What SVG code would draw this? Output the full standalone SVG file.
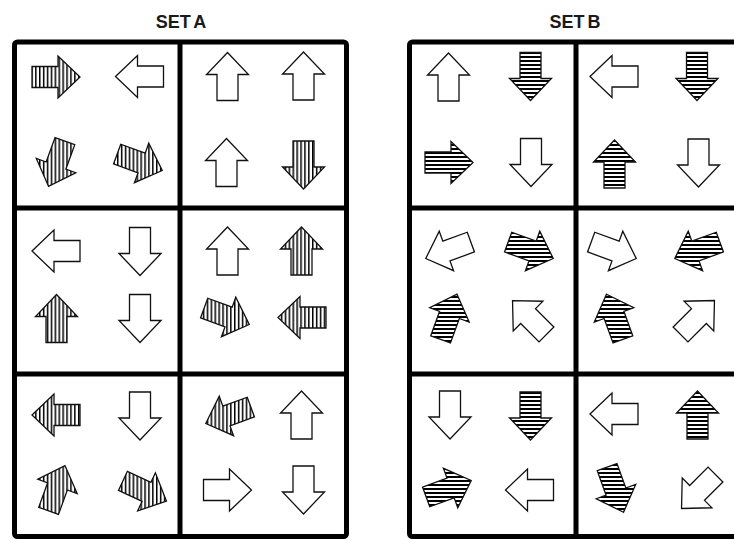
<svg xmlns="http://www.w3.org/2000/svg" width="734" height="539" viewBox="0 0 734 539">
<style>
.t{font-family:"Liberation Sans",Arial,sans-serif;font-weight:bold;font-size:18px;fill:#1a1a1a;text-anchor:middle;word-spacing:-2px}
.frame{fill:none;stroke:#000;stroke-width:5}
.o{fill:#fff;stroke:#111;stroke-width:1.3}
.hl{fill:none;stroke:#111;stroke-width:1.3}
</style>
<defs>
<polygon id="arr" points="0,-24 21,-2 10.5,-2 10.5,24 -10.5,24 -10.5,-2 -21,-2"/>
<pattern id="vs" patternUnits="userSpaceOnUse" width="3.9" height="10"><rect width="3.9" height="10" fill="#fff"/><rect width="1.5" height="10" fill="#000"/></pattern>
<pattern id="hs" patternUnits="userSpaceOnUse" width="10" height="4"><rect width="10" height="4" fill="#fff"/><rect width="10" height="2" fill="#000"/></pattern>
<clipPath id="k1"><use href="#arr" transform="translate(56,77) rotate(90)"/></clipPath>
<clipPath id="k2"><use href="#arr" transform="translate(56.7,163.7) rotate(200)"/></clipPath>
<clipPath id="k3"><use href="#arr" transform="translate(139.7,162.3) rotate(110)"/></clipPath>
<clipPath id="k4"><use href="#arr" transform="translate(303.5,165) rotate(180)"/></clipPath>
<clipPath id="k5"><use href="#arr" transform="translate(56.5,318.5) rotate(0)"/></clipPath>
<clipPath id="k6"><use href="#arr" transform="translate(301.5,251) rotate(0)"/></clipPath>
<clipPath id="k7"><use href="#arr" transform="translate(226.7,316.3) rotate(110)"/></clipPath>
<clipPath id="k8"><use href="#arr" transform="translate(302,317.5) rotate(270)"/></clipPath>
<clipPath id="k9"><use href="#arr" transform="translate(56,415) rotate(270)"/></clipPath>
<clipPath id="k10"><use href="#arr" transform="translate(56.8,488.3) rotate(20)"/></clipPath>
<clipPath id="k11"><use href="#arr" transform="translate(144.7,491) rotate(115)"/></clipPath>
<clipPath id="k12"><use href="#arr" transform="translate(228.3,415.3) rotate(250)"/></clipPath>
<clipPath id="k13"><use href="#arr" transform="translate(530.5,76.5) rotate(180)"/></clipPath>
<clipPath id="k14"><use href="#arr" transform="translate(449,162.5) rotate(90)"/></clipPath>
<clipPath id="k15"><use href="#arr" transform="translate(697,76.5) rotate(180)"/></clipPath>
<clipPath id="k16"><use href="#arr" transform="translate(614.5,164) rotate(0)"/></clipPath>
<clipPath id="k17"><use href="#arr" transform="translate(530.7,250.3) rotate(110)"/></clipPath>
<clipPath id="k18"><use href="#arr" transform="translate(448.8,316.8) rotate(20)"/></clipPath>
<clipPath id="k19"><use href="#arr" transform="translate(697.3,250.3) rotate(250)"/></clipPath>
<clipPath id="k20"><use href="#arr" transform="translate(614.7,316.8) rotate(340)"/></clipPath>
<clipPath id="k21"><use href="#arr" transform="translate(530.5,416) rotate(180)"/></clipPath>
<clipPath id="k22"><use href="#arr" transform="translate(448.7,488.7) rotate(70)"/></clipPath>
<clipPath id="k23"><use href="#arr" transform="translate(697.5,415) rotate(0)"/></clipPath>
<clipPath id="k24"><use href="#arr" transform="translate(615.3,489.7) rotate(160)"/></clipPath>
</defs>
<rect width="734" height="539" fill="#fff"/>
<text class="t" x="181" y="28">SET A</text>
<text class="t" x="575" y="28">SET B</text>
<g id="frames">
<rect class="frame" x="14.5" y="42" width="332" height="494.5" rx="3"/>
<line class="frame" x1="180" y1="42" x2="180" y2="536.5"/>
<line class="frame" x1="14.5" y1="208" x2="346.5" y2="208"/>
<line class="frame" x1="14.5" y1="374" x2="346.5" y2="374"/>
<rect class="frame" x="409.5" y="42" width="332" height="494.5" rx="3"/>
<line class="frame" x1="576" y1="42" x2="576" y2="536.5"/>
<line class="frame" x1="409.5" y1="208" x2="741.5" y2="208"/>
<line class="frame" x1="409.5" y1="374" x2="741.5" y2="374"/>
</g>
<g id="connectors"/>
<g id="setA-r1c1">
<rect x="26" y="47" width="60" height="60" fill="url(#vs)" clip-path="url(#k1)"/><use href="#arr" class="hl" transform="translate(56,77) rotate(90)"/>
<use href="#arr" class="o" transform="translate(139.5,76.5) rotate(270)"/>
<rect x="26" y="133" width="60" height="60" fill="url(#vs)" clip-path="url(#k2)"/><use href="#arr" class="hl" transform="translate(56.7,163.7) rotate(200)"/>
<rect x="109" y="132" width="60" height="60" fill="url(#vs)" clip-path="url(#k3)"/><use href="#arr" class="hl" transform="translate(139.7,162.3) rotate(110)"/>
</g>
<g id="setA-r1c2">
<use href="#arr" class="o" transform="translate(227.5,76.5) rotate(0)"/>
<use href="#arr" class="o" transform="translate(303.5,76) rotate(0)"/>
<use href="#arr" class="o" transform="translate(226.5,162.5) rotate(0)"/>
<rect x="273" y="135" width="60" height="60" fill="url(#vs)" clip-path="url(#k4)"/><use href="#arr" class="hl" transform="translate(303.5,165) rotate(180)"/>
</g>
<g id="setA-r2c1">
<use href="#arr" class="o" transform="translate(56,251) rotate(270)"/>
<use href="#arr" class="o" transform="translate(140,251.5) rotate(180)"/>
<rect x="26" y="288" width="60" height="60" fill="url(#vs)" clip-path="url(#k5)"/><use href="#arr" class="hl" transform="translate(56.5,318.5) rotate(0)"/>
<use href="#arr" class="o" transform="translate(140,318.5) rotate(180)"/>
</g>
<g id="setA-r2c2">
<use href="#arr" class="o" transform="translate(227.5,251) rotate(0)"/>
<rect x="271" y="221" width="60" height="60" fill="url(#vs)" clip-path="url(#k6)"/><use href="#arr" class="hl" transform="translate(301.5,251) rotate(0)"/>
<rect x="196" y="286" width="60" height="60" fill="url(#vs)" clip-path="url(#k7)"/><use href="#arr" class="hl" transform="translate(226.7,316.3) rotate(110)"/>
<rect x="272" y="287" width="60" height="60" fill="url(#vs)" clip-path="url(#k8)"/><use href="#arr" class="hl" transform="translate(302,317.5) rotate(270)"/>
</g>
<g id="setA-r3c1">
<rect x="26" y="385" width="60" height="60" fill="url(#vs)" clip-path="url(#k9)"/><use href="#arr" class="hl" transform="translate(56,415) rotate(270)"/>
<use href="#arr" class="o" transform="translate(140,416) rotate(180)"/>
<rect x="26" y="458" width="60" height="60" fill="url(#vs)" clip-path="url(#k10)"/><use href="#arr" class="hl" transform="translate(56.8,488.3) rotate(20)"/>
<rect x="114" y="461" width="60" height="60" fill="url(#vs)" clip-path="url(#k11)"/><use href="#arr" class="hl" transform="translate(144.7,491) rotate(115)"/>
</g>
<g id="setA-r3c2">
<rect x="198" y="385" width="60" height="60" fill="url(#vs)" clip-path="url(#k12)"/><use href="#arr" class="hl" transform="translate(228.3,415.3) rotate(250)"/>
<use href="#arr" class="o" transform="translate(301.5,415) rotate(0)"/>
<use href="#arr" class="o" transform="translate(227.5,490) rotate(90)"/>
<use href="#arr" class="o" transform="translate(303.5,490) rotate(180)"/>
</g>
<g id="setB-r1c1">
<use href="#arr" class="o" transform="translate(448.5,77) rotate(0)"/>
<rect x="500" y="46" width="60" height="60" fill="url(#hs)" clip-path="url(#k13)"/><use href="#arr" class="hl" transform="translate(530.5,76.5) rotate(180)"/>
<rect x="419" y="132" width="60" height="60" fill="url(#hs)" clip-path="url(#k14)"/><use href="#arr" class="hl" transform="translate(449,162.5) rotate(90)"/>
<use href="#arr" class="o" transform="translate(531,162.5) rotate(180)"/>
</g>
<g id="setB-r1c2">
<use href="#arr" class="o" transform="translate(614,76.5) rotate(270)"/>
<rect x="667" y="46" width="60" height="60" fill="url(#hs)" clip-path="url(#k15)"/><use href="#arr" class="hl" transform="translate(697,76.5) rotate(180)"/>
<rect x="584" y="134" width="60" height="60" fill="url(#hs)" clip-path="url(#k16)"/><use href="#arr" class="hl" transform="translate(614.5,164) rotate(0)"/>
<use href="#arr" class="o" transform="translate(698.5,163) rotate(180)"/>
</g>
<g id="setB-r2c1">
<use href="#arr" class="o" transform="translate(448.3,250.3) rotate(250)"/>
<rect x="500" y="220" width="60" height="60" fill="url(#hs)" clip-path="url(#k17)"/><use href="#arr" class="hl" transform="translate(530.7,250.3) rotate(110)"/>
<rect x="418" y="286" width="60" height="60" fill="url(#hs)" clip-path="url(#k18)"/><use href="#arr" class="hl" transform="translate(448.8,316.8) rotate(20)"/>
<use href="#arr" class="o" transform="translate(529.5,317.5) rotate(315)"/>
</g>
<g id="setB-r2c2">
<use href="#arr" class="o" transform="translate(613.7,250.3) rotate(110)"/>
<rect x="667" y="220" width="60" height="60" fill="url(#hs)" clip-path="url(#k19)"/><use href="#arr" class="hl" transform="translate(697.3,250.3) rotate(250)"/>
<rect x="584" y="286" width="60" height="60" fill="url(#hs)" clip-path="url(#k20)"/><use href="#arr" class="hl" transform="translate(614.7,316.8) rotate(340)"/>
<use href="#arr" class="o" transform="translate(697.5,317.5) rotate(45)"/>
</g>
<g id="setB-r3c1">
<use href="#arr" class="o" transform="translate(450,415) rotate(180)"/>
<rect x="500" y="386" width="60" height="60" fill="url(#hs)" clip-path="url(#k21)"/><use href="#arr" class="hl" transform="translate(530.5,416) rotate(180)"/>
<rect x="418" y="458" width="60" height="60" fill="url(#hs)" clip-path="url(#k22)"/><use href="#arr" class="hl" transform="translate(448.7,488.7) rotate(70)"/>
<use href="#arr" class="o" transform="translate(529.5,490) rotate(270)"/>
</g>
<g id="setB-r3c2">
<use href="#arr" class="o" transform="translate(614,414) rotate(270)"/>
<rect x="667" y="385" width="60" height="60" fill="url(#hs)" clip-path="url(#k23)"/><use href="#arr" class="hl" transform="translate(697.5,415) rotate(0)"/>
<rect x="585" y="459" width="60" height="60" fill="url(#hs)" clip-path="url(#k24)"/><use href="#arr" class="hl" transform="translate(615.3,489.7) rotate(160)"/>
<use href="#arr" class="o" transform="translate(698.5,491.5) rotate(225)"/>
</g>
</svg>
